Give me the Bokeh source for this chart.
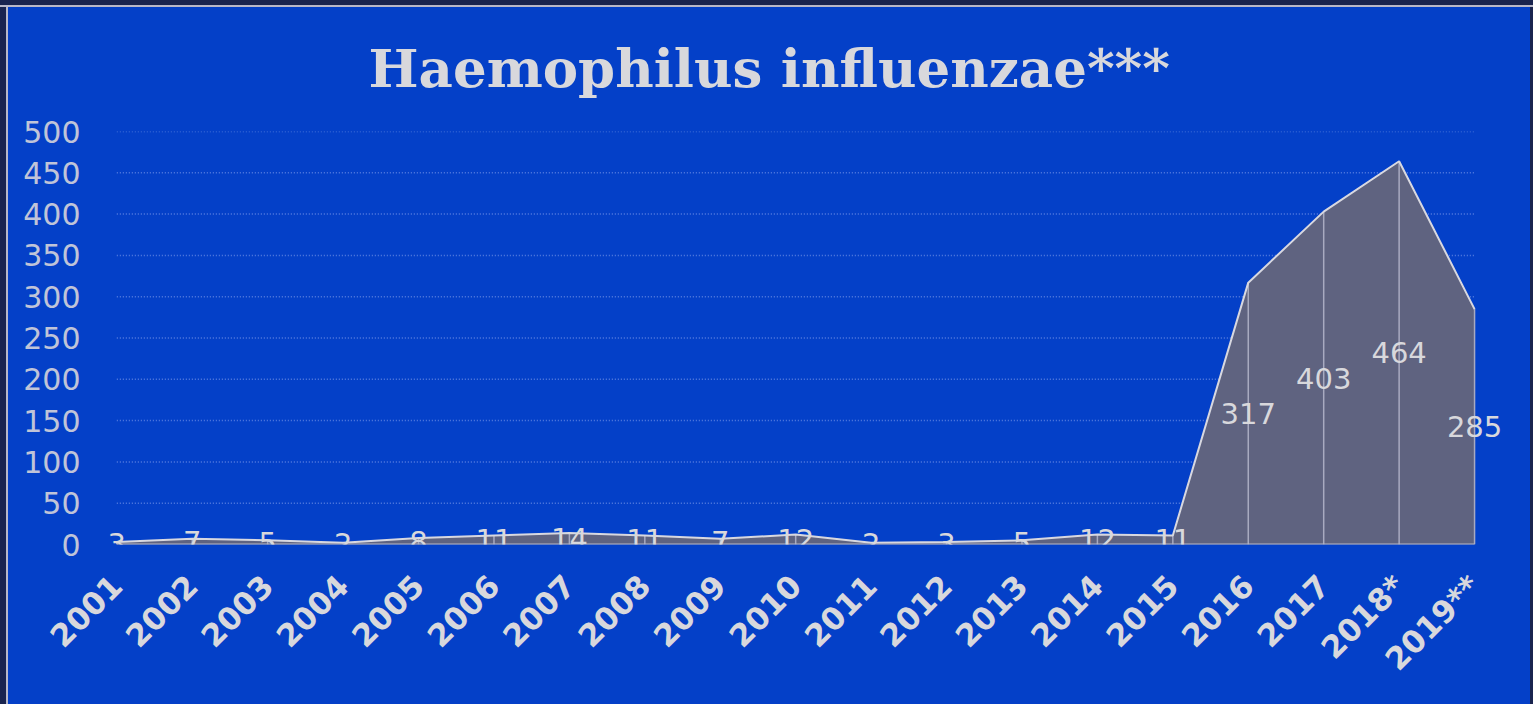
from bokeh.plotting import figure
from bokeh.models import ColumnDataSource, Range1d, FixedTicker, Title, LabelSet
from bokeh.core.properties import value
from bokeh.embed import file_html
from bokeh.resources import INLINE
import math

years = ["2001", "2002", "2003", "2004", "2005", "2006", "2007", "2008", "2009", "2010",
         "2011", "2012", "2013", "2014", "2015", "2016", "2017", "2018*", "2019**"]
cases = [3, 7, 5, 2, 8, 11, 14, 11, 7, 12, 2, 3, 5, 12, 11, 317, 403, 464, 285]
y_ticks = [0, 50, 100, 150, 200, 250, 300, 350, 400, 450, 500]

BG = "#0440C8"
TXT = "#D8D8DC"

n = len(years)
xs = list(range(n))
src = ColumnDataSource(dict(
    x=xs, y=cases, zero=[0] * n,
    ly=[v / 2 for v in cases], lab=[str(v) for v in cases],
))

# padding (in category units) so that edge labels are not clipped
PAD_L, PAD_R = 0.15, 0.45
p = figure(width=1522, height=704, output_backend="svg", toolbar_location=None,
           x_range=Range1d(-PAD_L, n - 1 + PAD_R), y_range=Range1d(0, 500),
           min_border_left=97, min_border_right=22, min_border_top=131, min_border_bottom=160)
p.background_fill_color = BG
p.background_fill_alpha = 0
p.border_fill_color = BG
p.border_fill_alpha = 0
p.outline_line_color = None
p.styles = {"background-color": BG}

p.title = Title(text="Haemophilus influenzae***", align="left",
                text_font="DejaVu Serif", text_font_size="53px",
                text_font_style="bold", text_color=TXT, offset=263, standoff=66)

# dotted horizontal grid spanning first..last category
grid_src = ColumnDataSource(dict(x0=[0] * (len(y_ticks) - 1), x1=[n - 1] * (len(y_ticks) - 1),
                                 y=y_ticks[1:]))
p.segment(x0="x0", y0="y", x1="x1", y1="y", source=grid_src,
          line_color="#5A7FE0", line_dash="1 2", line_width=1.5)

p.varea(x="x", y1="zero", y2="y", source=src, fill_color="#5F6380", fill_alpha=1)
p.segment(x0="x", y0="zero", x1="x", y1="y", source=src, line_color="#A8AAC0", line_width=1.5)
p.line(x="x", y="y", source=src, line_color="#D8D8E0", line_width=2)
p.line(x=[0, n - 1], y=[0, 0], line_color="#B8B8C8", line_width=2)

labels = LabelSet(x="x", y="ly", text="lab", source=src, text_align="center",
                  text_baseline="middle", text_font=value("DejaVu Sans"),
                  text_font_size=value("29px"), text_color=TXT)
p.add_layout(labels)

p.xaxis.ticker = FixedTicker(ticks=xs)
p.xaxis.major_label_overrides = {i: y for i, y in enumerate(years)}
p.xaxis.major_label_orientation = math.pi / 4
p.xaxis.major_label_text_font = "DejaVu Sans"
p.xaxis.major_label_text_font_style = "bold"
p.xaxis.major_label_text_font_size = "31px"
p.xaxis.major_label_text_color = TXT
p.xaxis.axis_line_color = None
p.xaxis.major_tick_line_color = None
p.xaxis.minor_tick_line_color = None
p.xaxis.major_label_standoff = 30

p.yaxis.ticker = FixedTicker(ticks=y_ticks)
p.yaxis.major_label_text_font = "DejaVu Sans"
p.yaxis.major_label_text_font_size = "30px"
p.yaxis.major_label_text_color = "#C0C4D8"
p.yaxis.axis_line_color = None
p.yaxis.major_tick_line_color = None
p.yaxis.minor_tick_line_color = None
p.yaxis.major_label_standoff = 19

p.xgrid.grid_line_color = None
p.ygrid.grid_line_color = None

html = file_html(p, INLINE)
css = ("<style>html{background:#19244F !important;} "
       "body{background:#19244F !important; padding:0 0 0 8px !important; margin:0 !important;} "
       "body::after{content:''; position:fixed; top:0; left:0; right:0; height:5px; "
       "background:#19244F; border-bottom:2px solid #B8B8C8; z-index:9999;} "
       "body::before{content:''; position:fixed; top:5px; left:6px; width:2px; bottom:0; "
       "background:#B8B8C8; z-index:9999;}</style>")
html = html.replace("</head>", css + "</head>", 1)
open("out.html", "w").write(html)
